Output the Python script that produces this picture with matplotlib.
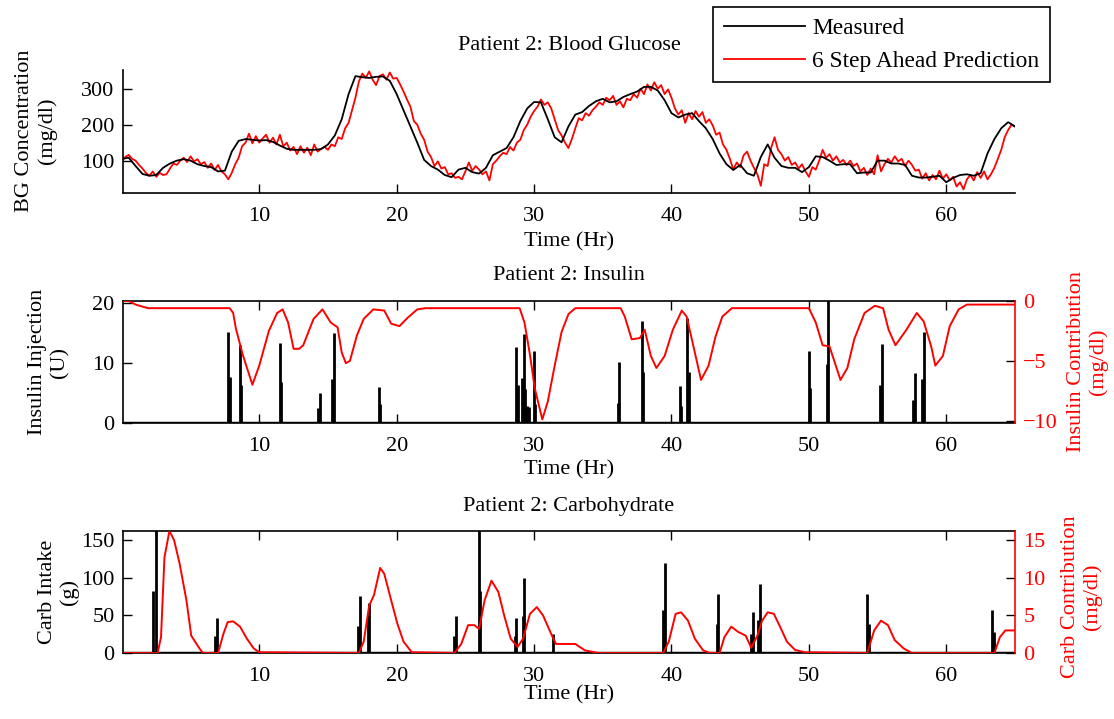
import matplotlib
matplotlib.use('Agg')
import matplotlib.pyplot as plt
from matplotlib.lines import Line2D
import numpy as np

plt.rcParams['font.family'] = ['Liberation Serif', 'DejaVu Serif']
plt.rcParams['font.size'] = 16

# ---------------- data ----------------
# Blood glucose, measured (every 0.5 h from 0 to 65 h)
bg_step_measured = 0.5
bg_measured = [105, 108, 85, 63, 58, 60, 80, 92, 100, 104, 100, 90, 85, 82, 70, 72,
               125, 155, 160, 158, 156, 157, 152, 142, 133, 130, 130, 130, 130, 132,
               145, 170, 215, 285, 335, 332, 330, 333, 334, 322, 285, 240, 195, 150,
               102, 85, 75, 60, 54, 75, 80, 68, 64, 80, 115, 125, 135, 165, 210, 245,
               263, 262, 215, 165, 151, 195, 228, 235, 252, 265, 272, 262, 265, 277,
               285, 292, 305, 305, 295, 268, 232, 220, 228, 232, 210, 190, 160, 120,
               90, 74, 88, 65, 58, 110, 145, 108, 85, 80, 80, 68, 82, 112, 110, 100,
               88, 90, 90, 65, 67, 67, 100, 100, 92, 92, 88, 58, 53, 53, 55, 58, 40,
               52, 60, 62, 58, 65, 120, 160, 190, 207, 195]

# 6 step ahead prediction (every 0.25 h from 0 to 65 h)
bg_step_pred = 0.25
bg_pred = [98, 110, 116, 105, 100, 88, 78, 66, 58, 70, 55, 66, 60, 62, 78, 92,
           88, 100, 108, 96, 112, 98, 104, 90, 96, 80, 92, 74, 88, 70, 62, 48,
           66, 90, 108, 140, 150, 175, 148, 168, 150, 162, 172, 150, 164, 145, 172, 140,
           150, 128, 138, 118, 140, 122, 136, 115, 145, 125, 133, 138, 130, 145, 140, 165,
           160, 190, 205, 240, 275, 320, 342, 330, 348, 325, 310, 335, 340, 325, 345, 328,
           330, 312, 292, 270, 250, 210, 200, 175, 158, 125, 110, 85, 98, 78, 82, 62,
           65, 52, 55, 48, 70, 95, 72, 85, 75, 62, 70, 45, 90, 100, 112, 122,
           118, 138, 128, 150, 158, 185, 200, 222, 238, 250, 270, 255, 262, 245, 215, 185,
           170, 150, 135, 160, 190, 218, 212, 232, 225, 240, 250, 262, 255, 275, 268, 280,
           255, 265, 248, 272, 268, 285, 275, 300, 285, 312, 295, 318, 300, 310, 285, 298,
           275, 245, 228, 240, 205, 232, 215, 238, 222, 235, 205, 215, 198, 172, 178, 145,
           130, 105, 75, 95, 82, 115, 125, 100, 80, 62, 30, 90, 85, 135, 165, 130,
           118, 100, 110, 88, 95, 78, 90, 70, 55, 82, 75, 100, 130, 108, 118, 100,
           112, 95, 102, 88, 100, 85, 92, 70, 80, 60, 78, 62, 115, 70, 90, 105,
           95, 112, 98, 105, 85, 100, 88, 72, 75, 50, 65, 45, 60, 48, 72, 50,
           62, 45, 55, 28, 40, 20, 48, 60, 45, 68, 52, 70, 48, 62, 80, 105,
           130, 165, 185, 200, 195]

# Insulin injections (U)
ins_t = [7.75, 7.85, 8.6, 8.7, 11.5, 11.6, 14.3, 14.4, 15.3, 15.45, 18.7, 18.8,
         28.7, 28.8, 29.1, 29.25, 29.35, 29.5, 29.65, 30.0, 30.1, 36.1, 36.2,
         37.85, 37.95, 40.6, 40.7, 41.1, 41.25, 50.0, 50.1, 51.3, 51.4, 55.2, 55.3,
         57.6, 57.75, 58.2, 58.35]
ins_u = [15.3, 7.7, 13.1, 6.4, 13.4, 6.8, 2.5, 5.0, 7.3, 15.0, 6.1, 3.1,
         12.7, 6.4, 7.6, 14.8, 5.7, 2.9, 2.6, 12.0, 3.2, 3.3, 10.2,
         17.1, 8.5, 6.2, 2.9, 17.6, 8.5, 12.1, 5.8, 9.9, 21.0, 6.4, 13.2,
         3.9, 8.3, 7.4, 15.2]

# Insulin contribution (mg/dl)
ic_t = [0, 0.5, 1.0, 1.9, 7.85, 8.1, 8.3, 8.8, 9.5, 10.0, 10.7, 11.3, 11.7, 12.1,
        12.5, 12.9, 13.2, 13.95, 14.6, 15.2, 15.7, 16.0, 16.3, 16.6, 17.1, 17.6,
        18.3, 19.1, 19.6, 20.2, 20.8, 21.5, 22.1, 28.95, 29.3, 29.7, 30.05, 30.6,
        31.0, 31.5, 32.0, 32.5, 33.0, 36.3, 36.6, 37.1, 37.7, 38.05, 38.5, 38.9,
        39.5, 40.1, 40.75, 41.1, 41.6, 42.15, 42.7, 43.2, 43.7, 44.4, 50.0, 50.5,
        51.0, 51.5, 52.3, 52.8, 53.3, 54.05, 54.8, 55.4, 55.8, 56.3, 57.1, 57.85,
        58.35, 58.9, 59.2, 59.75, 60.25, 60.9, 61.5, 65.0]
ic_v = [0.0, 0.0, -0.3, -0.6, -0.6, -1.0, -2.3, -4.5, -7.0, -5.4, -2.5, -1.0, -0.7, -1.8,
        -4.0, -4.0, -3.7, -1.5, -0.7, -1.8, -2.2, -4.3, -5.2, -5.0, -2.9, -1.5,
        -0.7, -0.8, -1.9, -2.1, -1.4, -0.7, -0.6, -0.6, -1.8, -4.5, -7.3, -9.9,
        -8.4, -5.4, -2.6, -1.1, -0.6, -0.6, -1.3, -3.2, -3.1, -2.4, -4.6, -5.6,
        -4.6, -2.4, -0.8, -1.3, -3.8, -6.6, -5.4, -3.0, -1.3, -0.6, -0.6, -1.8,
        -3.7, -3.8, -6.6, -5.6, -3.2, -1.0, -0.4, -0.6, -2.4, -3.7, -2.4, -1.0,
        -1.7, -3.8, -5.4, -4.6, -2.1, -0.7, -0.3, -0.3]

# Carbohydrate intake (g)
carb_t = [2.3, 2.45, 6.75, 6.9, 17.2, 17.3, 17.9, 18.0, 24.2, 24.3, 26.0, 26.1,
          28.6, 28.7, 29.2, 29.3, 31.4, 39.35, 39.5, 43.3, 43.4, 45.8, 45.9,
          46.3, 46.45, 54.25, 54.4, 63.3, 63.45]
carb_g = [82, 170, 22, 47, 36, 76, 52, 67, 22, 49, 170, 82,
          22, 47, 49, 100, 25, 57, 120, 38, 79, 25, 55,
          44, 92, 79, 38, 57, 28]

# Carb contribution (mg/dl)
cc_t = [0, 2.6, 2.85, 3.1, 3.46, 3.8, 4.2, 4.7, 5.05, 5.65, 5.9, 7.0, 7.4, 7.7,
        8.1, 8.6, 9.1, 9.6, 10.0, 17.25, 17.6, 18.0, 18.35, 18.8, 19.1, 19.6,
        20.05, 20.5, 21.1, 24.2, 24.7, 25.2, 25.65, 26.0, 26.4, 26.9, 27.4, 27.85,
        28.3, 28.8, 29.2, 29.7, 30.2, 30.65, 31.3, 31.6, 33.0, 33.7, 34.7, 39.4,
        39.8, 40.3, 40.7, 41.2, 41.7, 42.3, 42.8, 43.5, 43.85, 44.35, 44.85, 45.4,
        45.8, 46.25, 46.6, 47.0, 47.45, 47.9, 48.4, 49.0, 49.7, 54.25, 54.75,
        55.25, 55.75, 56.25, 56.9, 57.5, 63.5, 63.9, 64.3, 65.0]
cc_v = [0, 0, 2.1, 12.7, 16.2, 15.0, 11.9, 7.0, 2.3, 0.6, 0, 0, 2.6, 4.1,
        4.2, 3.5, 1.9, 0.6, 0.1, 0, 1.5, 6.3, 7.7, 11.3, 10.5, 7.0,
        3.9, 1.5, 0.1, 0, 1.2, 3.7, 3.7, 3.2, 7.0, 9.6, 8.1, 4.8,
        1.9, 0.8, 1.9, 5.2, 6.1, 5.0, 2.3, 1.2, 1.2, 0.35, 0, 0,
        1.5, 5.2, 5.4, 4.3, 1.9, 0.35, 0, 0, 2.1, 3.5, 2.8, 2.3,
        0.7, 2.3, 4.3, 5.4, 5.2, 3.5, 1.5, 0.4, 0.1, 0, 3.0,
        4.3, 3.7, 1.7, 0.6, 0, 0, 2.1, 3.0, 3.0]

time_ticks = [10, 20, 30, 40, 50, 60]
bg_ticks = [100, 200, 300]
ins_ticks = [0, 10, 20]
ic_ticks = [-10, -5, 0]
carb_ticks = [0, 50, 100, 150]
cc_ticks = [0, 5, 10, 15]

# ---------------- figure ----------------
FW, FH = 1114, 719
fig = plt.figure(figsize=(FW / 100, FH / 100), dpi=100)

def fx(px):
    return px / FW

def fy(py):
    return 1 - py / FH

L = fx(123)
W = fx(1015) - fx(123)
ax1 = fig.add_axes([L, fy(193), W, (193 - 70) / FH])
ax2 = fig.add_axes([L, fy(423), W, (423 - 301) / FH])
ax3 = fig.add_axes([L, fy(653), W, (653 - 531) / FH])

RED = '#ff0000'
XMIN, XMAX = 1 / 12, 65
TL = 6.5
SPW = 1.2

def style(ax, box=True):
    ax.set_xlim(XMIN, XMAX)
    ax.set_xticks(time_ticks)
    ax.tick_params(direction='in', length=TL, width=1.0, labelsize=16, pad=6,
                   top=box, right=False)
    ax.tick_params(axis='x', pad=10)
    for s in ax.spines.values():
        s.set_linewidth(SPW)
        s.set_color('k')
    if not box:
        ax.spines['top'].set_visible(False)
        ax.spines['right'].set_visible(False)

# --- top: blood glucose
t_meas = np.arange(len(bg_measured)) * bg_step_measured
t_pred = np.arange(len(bg_pred)) * bg_step_pred
ax1.plot(t_meas, bg_measured, color='k', lw=1.3, zorder=3)
ax1.plot(t_pred, bg_pred, color=RED, lw=1.3, zorder=2)
style(ax1, box=False)
ax1.set_ylim(10, 352)
ax1.set_yticks(bg_ticks)

# --- middle: insulin
ax2.vlines(ins_t, 0, ins_u, color='k', lw=2.0)
ax2.axhline(0, color='k', lw=2.5)
style(ax2)
ax2.set_ylim(0, 20.4)
ax2.set_yticks(ins_ticks)
ax2b = ax2.twinx()
ax2b.plot(ic_t, ic_v, color=RED, lw=1.4)
ax2b.set_ylim(-10.2, 0.0)
ax2b.set_yticks(ic_ticks)
ax2b.set_xlim(XMIN, XMAX)
ax2b.tick_params(direction='in', length=TL, width=1.0, labelsize=16, pad=6,
                 color='k', labelcolor=RED)
for k in ['left', 'top', 'bottom']:
    ax2b.spines[k].set_visible(False)
ax2b.spines['right'].set_color(RED)
ax2b.spines['right'].set_linewidth(SPW)
ax2.spines['right'].set_visible(False)

# --- bottom: carbohydrate
ax3.vlines(carb_t, 0, carb_g, color='k', lw=2.0)
ax3.axhline(0, color='k', lw=2.5)
style(ax3)
ax3.set_ylim(0, 162)
ax3.set_yticks(carb_ticks)
ax3b = ax3.twinx()
ax3b.plot(cc_t, cc_v, color=RED, lw=1.4, clip_on=True)
ax3b.set_ylim(0, 16.2)
ax3b.set_yticks(cc_ticks)
ax3b.set_xlim(XMIN, XMAX)
ax3b.tick_params(direction='in', length=TL, width=1.0, labelsize=16, pad=6,
                 color='k', labelcolor=RED)
for k in ['left', 'top', 'bottom']:
    ax3b.spines[k].set_visible(False)
ax3b.spines['right'].set_color(RED)
ax3b.spines['right'].set_linewidth(SPW)
ax3.spines['right'].set_visible(False)

# --- texts
xc = (fx(123) + fx(1015)) / 2
fig.text(xc, fy(45), 'Patient 2: Blood Glucose', ha='center', va='center', fontsize=16)
fig.text(xc, fy(276), 'Patient 2: Insulin', ha='center', va='center', fontsize=16)
fig.text(xc, fy(506), 'Patient 2: Carbohydrate', ha='center', va='center', fontsize=16)
for yy in (242, 470, 695):
    fig.text(xc, fy(yy), 'Time (Hr)', ha='center', va='center', fontsize=16)

fig.text(fx(36), fy(131), 'BG Concentration\n(mg/dl)', rotation=90, ha='center',
         va='center', multialignment='center', fontsize=16)
fig.text(fx(48.5), fy(362), 'Insulin Injection\n(U)', rotation=90, ha='center',
         va='center', multialignment='center', fontsize=16)
fig.text(fx(58.5), fy(592), 'Carb Intake\n(g)', rotation=90, ha='center',
         va='center', multialignment='center', fontsize=16)
fig.text(fx(1087.5), fy(362), 'Insulin Contribution\n(mg/dl)', rotation=90, ha='center',
         va='center', multialignment='center', fontsize=16, color=RED)
fig.text(fx(1081.5), fy(597), 'Carb Contribution\n(mg/dl)', rotation=90, ha='center',
         va='center', multialignment='center', fontsize=16, color=RED)

# --- legend
handles = [Line2D([], [], color='k', lw=1.3), Line2D([], [], color=RED, lw=1.3)]
leg = fig.legend(handles, ['Measured', '6 Step Ahead Prediction'], loc='upper left',
                 bbox_to_anchor=(fx(713), fy(7)), bbox_transform=fig.transFigure,
                 borderaxespad=0, fancybox=False, edgecolor='k', framealpha=1,
                 handlelength=3.5, handletextpad=0.3, labelspacing=0.5,
                 borderpad=0.45, fontsize=16.8)
leg.get_frame().set_linewidth(1.2)

fig.savefig('out.png', dpi=100)
